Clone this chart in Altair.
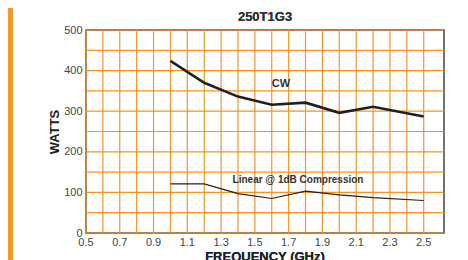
import altair as alt
import pandas as pd

freq = [1.0, 1.2, 1.4, 1.6, 1.8, 2.0, 2.2, 2.5]
cw_watts = [424, 370, 336, 316, 321, 296, 311, 287]
linear_watts = [121, 121, 97, 85, 103, 94, 87, 80]

x_grid = [round(0.5 + 0.1 * i, 1) for i in range(21)]
y_grid = [50 * i for i in range(11)]
x_labels = [0.5, 0.7, 0.9, 1.1, 1.3, 1.5, 1.7, 1.9, 2.1, 2.3, 2.5]
y_labels = [0, 100, 200, 300, 400, 500]

ann_text = ["CW", "Linear @ 1dB Compression"]
ann_freq = [1.654, 1.368]
ann_watts = [367, 130]

df = pd.DataFrame({
    "freq": freq * 2,
    "watts": cw_watts + linear_watts,
    "series": ["CW"] * len(freq) + ["Linear"] * len(freq),
})
ann = pd.DataFrame({"text": ann_text, "freq": ann_freq, "watts": ann_watts})
xg = pd.DataFrame({"freq": x_grid})
yg = pd.DataFrame({"watts": y_grid})
xl = pd.DataFrame({"freq": x_labels, "label": [f"{v:.1f}" for v in x_labels]})

FONT = "Liberation Sans"
ORANGE = "#F7931E"

xs = alt.Scale(domain=[0.5, 2.62], nice=False, zero=False)
ys = alt.Scale(domain=[0, 500], nice=False)

yax = alt.Axis(values=y_labels, grid=False, ticks=False, domain=False,
               labelOverlap=False,
               labelFontSize=11, labelColor="#444", labelPadding=4, labelFont=FONT,
               title="WATTS", titleFontSize=13, titleFont=FONT, titleColor="#222",
               titleFontWeight="bold", titlePadding=2)

vgrid = alt.Chart(xg).mark_rule(color=ORANGE, strokeWidth=1.2).encode(
    x=alt.X("freq:Q", scale=xs, axis=None))
hgrid = alt.Chart(yg).mark_rule(color=ORANGE, strokeWidth=1.2).encode(
    y=alt.Y("watts:Q", scale=ys, axis=yax))

xlabels = alt.Chart(xl).mark_text(
    font=FONT, fontSize=11, color="#444", align="center", baseline="top").encode(
    x=alt.X("freq:Q", scale=xs), y=alt.value(207), text="label:N")
xtitle = alt.Chart(ann).mark_text(
    font=FONT, fontSize=13, fontWeight="bold", color="#222", align="center",
    baseline="top", text="FREQUENCY (GHz)").encode(
    x=alt.value(179), y=alt.value(221))

cw = alt.Chart(df).transform_filter(alt.datum.series == "CW").mark_line(
    color="#231F20", strokeWidth=2.6).encode(
    x=alt.X("freq:Q", scale=xs),
    y=alt.Y("watts:Q", scale=ys),
)
lin = alt.Chart(df).transform_filter(alt.datum.series == "Linear").mark_line(
    color="#231F20", strokeWidth=1.2).encode(
    x=alt.X("freq:Q", scale=xs),
    y=alt.Y("watts:Q", scale=ys),
)
labels_cw = alt.Chart(ann).transform_filter(alt.datum.text == "CW").mark_text(
    font=FONT, fontWeight="bold", fontSize=11, color="#333", align="center",
    baseline="middle").encode(
    x=alt.X("freq:Q", scale=xs), y=alt.Y("watts:Q", scale=ys), text="text:N")
labels_lin = alt.Chart(ann).transform_filter(alt.datum.text != "CW").mark_text(
    font=FONT, fontWeight="bold", fontSize=10, color="#333", align="left",
    baseline="middle").encode(
    x=alt.X("freq:Q", scale=xs), y=alt.Y("watts:Q", scale=ys), text="text:N")

title = alt.Chart(ann).mark_text(
    font=FONT, fontWeight="bold", fontSize=13, color="#333", align="center",
    baseline="middle", text="250T1G3").encode(
    x=alt.value(179), y=alt.value(-13))

bar = alt.Chart(ann).mark_rule(color=ORANGE, strokeWidth=4.5).encode(
    x=alt.value(-75.5), y=alt.value(-40), y2=alt.value(260))

chart = alt.layer(bar, vgrid, hgrid, cw, lin, labels_cw, labels_lin, title,
                  xlabels, xtitle).properties(
    width=358, height=203,
    autosize=alt.AutoSizeParams(type="none"),
    padding={"left": 78, "top": 22, "right": 16, "bottom": 30},
).configure_view(stroke="#444", strokeWidth=1.5)

chart.save("out.html", embed_options={"renderer": "svg", "actions": False})
